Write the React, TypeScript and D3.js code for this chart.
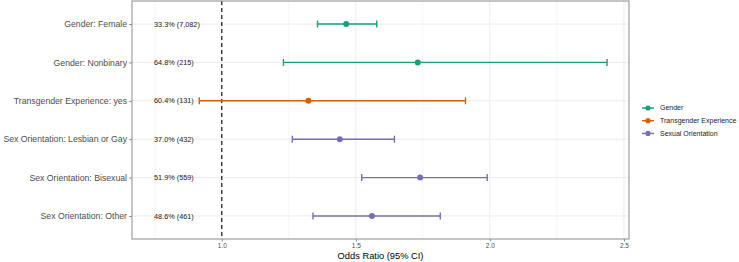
import React, { useEffect, useRef } from "react";
import * as d3 from "d3";

// rows, top to bottom
const labels = [
  "Gender: Female",
  "Gender: Nonbinary",
  "Transgender Experience: yes",
  "Sex Orientation: Lesbian or Gay",
  "Sex Orientation: Bisexual",
  "Sex Orientation: Other",
];
const groups = [
  "Gender",
  "Gender",
  "Transgender Experience",
  "Sexual Orientation",
  "Sexual Orientation",
  "Sexual Orientation",
];
const oddsRatio = [1.464, 1.731, 1.323, 1.44, 1.74, 1.56];
const ciLow = [1.357, 1.23, 0.916, 1.263, 1.522, 1.34];
const ciHigh = [1.578, 2.437, 1.909, 1.644, 1.99, 1.815];
const pctText = [
  "33.3% (7,082)",
  "64.8% (215)",
  "60.4% (131)",
  "37.0% (432)",
  "51.9% (559)",
  "48.6% (461)",
];

const legendGroups = ["Gender", "Transgender Experience", "Sexual Orientation"];
const groupColors = ["#1B9E77", "#D95F02", "#7570B3"];
const xTicks = [1.0, 1.5, 2.0, 2.5];
const xMinor = [0.75, 1.25, 1.75, 2.25];

const App = () => {
  const svgRef = useRef<SVGSVGElement>(null);

  useEffect(() => {
    const svg = d3.select(svgRef.current);
    svg.selectAll("*").remove();

    const width = 739;
    const height = 262;
    const panel = { left: 132, right: 629, top: 1, bottom: 239 };
    const font = "Liberation Sans, Arial, Helvetica, sans-serif";

    svg.attr("width", width).attr("height", height).style("font-family", font);

    const x = d3.scaleLinear().domain([0.665, 2.519]).range([panel.left, panel.right]);
    const y = d3
      .scalePoint<string>()
      .domain(labels)
      .range([panel.top, panel.bottom])
      .padding(0.6);
    const color = d3.scaleOrdinal<string, string>().domain(legendGroups).range(groupColors);

    const g = svg.append("g");

    // panel background + grid
    g.append("rect")
      .attr("x", panel.left)
      .attr("y", panel.top)
      .attr("width", panel.right - panel.left)
      .attr("height", panel.bottom - panel.top)
      .attr("fill", "white");

    g.selectAll(".minor")
      .data(xMinor)
      .join("line")
      .attr("x1", (d) => x(d))
      .attr("x2", (d) => x(d))
      .attr("y1", panel.top)
      .attr("y2", panel.bottom)
      .attr("stroke", "#EFEFEF")
      .attr("stroke-width", 0.6);

    g.selectAll(".major")
      .data(xTicks)
      .join("line")
      .attr("x1", (d) => x(d))
      .attr("x2", (d) => x(d))
      .attr("y1", panel.top)
      .attr("y2", panel.bottom)
      .attr("stroke", "#EBEBEB")
      .attr("stroke-width", 1);

    g.selectAll(".hgrid")
      .data(labels)
      .join("line")
      .attr("x1", panel.left)
      .attr("x2", panel.right)
      .attr("y1", (d) => y(d)!)
      .attr("y2", (d) => y(d)!)
      .attr("stroke", "#EBEBEB")
      .attr("stroke-width", 1);

    // reference line at OR = 1
    g.append("line")
      .attr("x1", x(1))
      .attr("x2", x(1))
      .attr("y1", panel.top)
      .attr("y2", panel.bottom)
      .attr("stroke", "black")
      .attr("stroke-width", 1.1)
      .attr("stroke-dasharray", "4,3");

    // error bars
    const rows = labels.map((l, i) => ({
      label: l,
      group: groups[i],
      or: oddsRatio[i],
      lo: ciLow[i],
      hi: ciHigh[i],
      txt: pctText[i],
    }));

    const bars = g.selectAll(".bar").data(rows).join("g");
    bars
      .append("line")
      .attr("x1", (d) => x(d.lo))
      .attr("x2", (d) => x(d.hi))
      .attr("y1", (d) => y(d.label)!)
      .attr("y2", (d) => y(d.label)!)
      .attr("stroke", (d) => color(d.group))
      .attr("stroke-width", 1.4);
    bars
      .selectAll(".cap")
      .data((d) => [
        { v: d.lo, d },
        { v: d.hi, d },
      ])
      .join("line")
      .attr("x1", (c) => x(c.v))
      .attr("x2", (c) => x(c.v))
      .attr("y1", (c) => y(c.d.label)! - 3.5)
      .attr("y2", (c) => y(c.d.label)! + 3.5)
      .attr("stroke", (c) => color(c.d.group))
      .attr("stroke-width", 1.4);
    bars
      .append("circle")
      .attr("cx", (d) => x(d.or))
      .attr("cy", (d) => y(d.label)!)
      .attr("r", 3)
      .attr("fill", (d) => color(d.group));

    // percent annotations
    g.selectAll(".pct")
      .data(rows)
      .join("text")
      .attr("x", 154)
      .attr("y", (d) => y(d.label)!)
      .attr("dy", "0.35em")
      .attr("font-size", 7.3)
      .attr("fill", "#1a1a1a")
      .text((d) => d.txt);

    // panel border
    g.append("rect")
      .attr("x", panel.left)
      .attr("y", panel.top)
      .attr("width", panel.right - panel.left)
      .attr("height", panel.bottom - panel.top)
      .attr("fill", "none")
      .attr("stroke", "#8C8C8C")
      .attr("stroke-width", 1);

    // y axis
    const yAxis = g
      .append("g")
      .attr("transform", `translate(${panel.left},0)`)
      .call(d3.axisLeft(y).tickSize(3).tickPadding(2));
    yAxis.select(".domain").remove();
    yAxis.selectAll("line").attr("stroke", "#8C8C8C");
    yAxis
      .selectAll("text")
      .attr("fill", "#4D4D4D")
      .attr("font-size", 8.7)
      .attr("font-family", font);

    // x axis
    const xAxis = g
      .append("g")
      .attr("transform", `translate(0,${panel.bottom})`)
      .call(
        d3
          .axisBottom(x)
          .tickValues(xTicks)
          .tickFormat(d3.format(".1f"))
          .tickSize(2.5)
          .tickPadding(2)
      );
    xAxis.select(".domain").remove();
    xAxis.selectAll("line").attr("stroke", "#8C8C8C");
    xAxis
      .selectAll("text")
      .attr("fill", "#4D4D4D")
      .attr("font-size", 6.5)
      .attr("font-family", font);

    g.append("text")
      .attr("x", (panel.left + panel.right) / 2)
      .attr("y", 259)
      .attr("text-anchor", "middle")
      .attr("font-size", 9.3)
      .attr("fill", "black")
      .text("Odds Ratio (95% CI)");

    // legend
    const legend = g
      .selectAll(".leg")
      .data(legendGroups)
      .join("g")
      .attr("transform", (d, i) => `translate(642,${108 + i * 12.7})`);
    legend
      .append("line")
      .attr("x1", 0)
      .attr("x2", 12)
      .attr("stroke", (d) => color(d))
      .attr("stroke-width", 1.4);
    legend
      .append("circle")
      .attr("cx", 6)
      .attr("r", 2.6)
      .attr("fill", (d) => color(d));
    legend
      .append("text")
      .attr("x", 18)
      .attr("dy", "0.35em")
      .attr("font-size", 7)
      .attr("fill", "#1a1a1a")
      .text((d) => d);
  }, []);

  return (
    <div style={{ position: "absolute", left: 0, top: 0 }}>
      <svg ref={svgRef} style={{ display: "block" }} />
    </div>
  );
};

export default App;
